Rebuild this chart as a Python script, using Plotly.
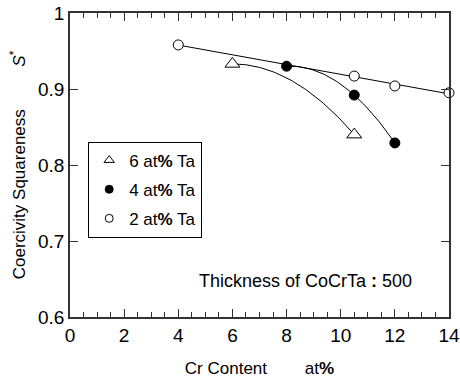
import numpy as np
import plotly.graph_objects as go

# Data
cr_ta6 = [6.0, 10.5]
s_ta6 = [0.933, 0.840]
cr_ta4 = [8.0, 10.5, 12.0]
s_ta4 = [0.930, 0.892, 0.829]
cr_ta2 = [4.0, 10.5, 12.0, 14.0]
s_ta2 = [0.958, 0.917, 0.904, 0.895]

labels = ["6 at<b>%</b> Ta", "4 at<b>%</b> Ta", "2 at<b>%</b> Ta"]
x_ticks = [0, 2, 4, 6, 8, 10, 12, 14]
y_ticks = [0.6, 0.7, 0.8, 0.9, 1.0]
y_ticktext = ["0.6", "0.7", "0.8", "0.9", "1"]

FONT = "Liberation Sans, Arial, sans-serif"
BLACK = "#000000"
AX = "#333333"

fig = go.Figure()

# Trend curves
x6 = np.linspace(cr_ta6[0], cr_ta6[-1], 60)
a6 = (s_ta6[1] - s_ta6[0]) / (cr_ta6[1] - cr_ta6[0]) ** 2
y6 = s_ta6[0] + a6 * (x6 - cr_ta6[0]) ** 2
p4 = np.polyfit(cr_ta4, s_ta4, 2)
x4 = np.linspace(cr_ta4[0], cr_ta4[-1], 60)
y4 = np.polyval(p4, x4)
p2 = np.polyfit(cr_ta2, s_ta2, 1)
x2 = np.array([cr_ta2[0], cr_ta2[-1]])
y2 = np.polyval(p2, x2)

for xx, yy in [(x6, y6), (x4, y4), (x2, y2)]:
    fig.add_trace(go.Scatter(x=xx, y=yy, mode="lines",
                             line=dict(color=BLACK, width=1),
                             showlegend=False, hoverinfo="skip"))

# Markers
fig.add_trace(go.Scatter(x=cr_ta6, y=s_ta6, mode="markers", name=labels[0],
                         marker=dict(symbol="triangle-up", size=13, color="white",
                                     line=dict(color=BLACK, width=1)),
                         cliponaxis=False, showlegend=False))
fig.add_trace(go.Scatter(x=cr_ta4, y=s_ta4, mode="markers", name=labels[1],
                         marker=dict(symbol="circle", size=10, color=BLACK,
                                     line=dict(color=BLACK, width=1)),
                         cliponaxis=False, showlegend=False))
fig.add_trace(go.Scatter(x=cr_ta2, y=s_ta2, mode="markers", name=labels[2],
                         marker=dict(symbol="circle", size=10, color="white",
                                     line=dict(color=BLACK, width=1)),
                         cliponaxis=False, showlegend=False))

# Legend entries (smaller markers as in the reference)
legend_markers = [("triangle-up", "white", 9), ("circle", BLACK, 8), ("circle", "white", 8)]
for i, (sym, col, sz) in enumerate(legend_markers):
    fig.add_trace(go.Scatter(x=[None], y=[None], mode="markers", name=labels[i],
                             legendgroup=f"g{i}",
                             marker=dict(symbol=sym, size=sz, color=col,
                                         line=dict(color=BLACK, width=1))))

fig.add_annotation(x=0.335, y=0.12, xref="paper", yref="paper",
                   xanchor="left", yanchor="middle", showarrow=False,
                   text="Thickness of CoCrTa<b>\u00a0:\u00a0</b>500",
                   font=dict(family=FONT, size=18, color=BLACK))

axis_common = dict(showline=True, linecolor=AX, linewidth=1.5, mirror="ticks",
                   ticks="inside", tickcolor=AX, tickwidth=1, ticklen=8,
                   showgrid=False, zeroline=False, automargin=False,
                   tickfont=dict(family=FONT, size=19, color=BLACK))

fig.update_xaxes(range=[0, 14], tickvals=x_ticks,
                 minor=dict(ticks="inside", dtick=0.5, ticklen=5, tickcolor=AX,
                            showgrid=False),
                 title=dict(text="Cr Content\u00a0\u00a0\u00a0\u00a0\u00a0\u00a0\u00a0\u00a0at<b>%</b>",
                            font=dict(family=FONT, size=17, color=BLACK), standoff=19),
                 **axis_common)
fig.update_yaxes(range=[0.6, 1.0], tickvals=y_ticks, ticktext=y_ticktext,
                 title=dict(text="Coercivity Squareness\u00a0\u00a0\u00a0\u00a0\u00a0\u00a0\u00a0\u00a0\u00a0<i>S</i><sup>*</sup>",
                            font=dict(family=FONT, size=17, color=BLACK), standoff=8),
                 **axis_common)

fig.update_layout(
    width=460, height=378,
    margin=dict(l=70, r=11, t=13, b=61),
    paper_bgcolor="white", plot_bgcolor="white",
    font=dict(family=FONT, size=16, color=BLACK),
    legend=dict(x=0.048, y=0.577, xanchor="left", yanchor="top",
                bordercolor=BLACK, borderwidth=1, bgcolor="white",
                tracegroupgap=4, itemwidth=30,
                font=dict(family=FONT, size=17, color=BLACK)),
)

fig.write_html("out.html")
